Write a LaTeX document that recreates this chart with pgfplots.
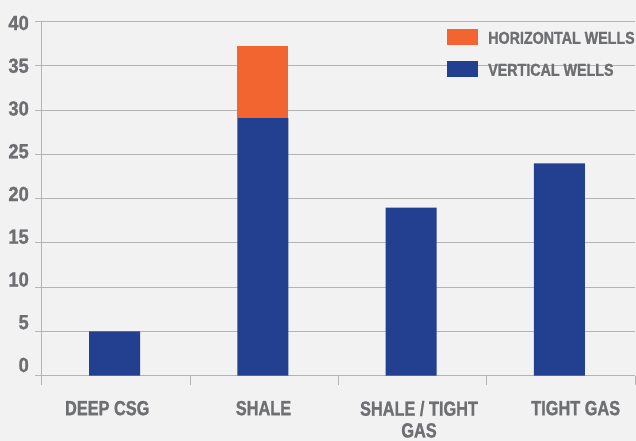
\documentclass[border=0pt]{standalone}
\usepackage{fontspec}
\setmainfont{Liberation Sans}
\newfontfamily\labelfont{Liberation Sans}[UprightFont={* Bold}, FakeStretch=0.8, FakeBold=1.2]
\newfontfamily\legfont{Liberation Sans}[UprightFont={* Bold}, FakeStretch=0.83, FakeBold=1.2]
\newfontfamily\numfont{Liberation Sans}[UprightFont={* Bold}, FakeStretch=0.9, FakeBold=1.2]
\usepackage{pgfplots}
\pgfplotsset{compat=1.18}

\definecolor{bgc}{HTML}{F2F2F2}
\definecolor{vblue}{HTML}{233F8F}
\definecolor{horange}{HTML}{F26531}
\definecolor{txt}{HTML}{6E6F72}
\definecolor{gridc}{HTML}{B4B4B4}

\begin{document}
\begin{tikzpicture}[x=1bp,y=1bp]
\fill[bgc] (-42,-65.3) rectangle (594,375.7);
\begin{axis}[
  at={(0,0)}, anchor=south west,
  scale only axis, width=593bp, height=354bp,
  ybar stacked, bar width=51bp, bar shift=-1.5bp,
  xmin=-0.5, xmax=3.5, ymin=0, ymax=40,
  ytick={0,5,...,40},
  xtick={-0.06,0.994,2.043,3.10},
  xticklabels={DEEP CSG, SHALE, SHALE / TIGHT\\GAS, TIGHT GAS},
  minor xtick={-0.5,0.5,1.5,2.5,3.5},
  axis lines*=left,
  axis line style={gridc, line width=1bp},
  ymajorgrids,
  major grid style={gridc, line width=1bp},
  tick align=outside,
  major tick length=7bp,
  minor tick length=9bp,
  tick style={gridc, line width=1bp},
  major x tick style={draw=none},
  /pgf/number format/assume math mode=true,
  yticklabel style={anchor=east, inner sep=0pt, xshift=-6bp,
    yshift={(10.7-1.5*\ticknum)*1bp},
    font=\numfont\fontsize{20.4bp}{21.7bp}\selectfont, text=txt},
  xticklabel style={anchor=north, inner sep=0pt, align=center, yshift=-18bp,
    font=\labelfont\fontsize{20.4bp}{21.7bp}\selectfont, text=txt},
  reverse legend,
  legend style={at={(0.683,0.979)}, anchor=north west, draw=none, fill=none,
    inner sep=0pt, row sep=16bp, column sep=0bp,
    nodes={inner sep=0pt, text=txt},
    font=\legfont\fontsize{17.2bp}{18bp}\selectfont},
  legend cell align=left,
]
% vertical wells
\addplot[fill=vblue, draw=none,
  legend image code/.code={\fill[vblue] (0bp,-6.8bp) rectangle (31bp,9.2bp); \path (41bp,0) ;}]
  coordinates {(0,5) (1,29.1) (2,19) (3,24)};
\addlegendentry{VERTICAL WELLS}
% horizontal wells
\addplot[fill=horange, draw=none,
  legend image code/.code={\fill[horange] (0bp,-6.8bp) rectangle (31bp,9.2bp); \path (41bp,0) ;}]
  coordinates {(0,0) (1,8.2) (2,0) (3,0)};
\addlegendentry{HORIZONTAL WELLS}
\end{axis}
\pgfresetboundingbox
\path (-42,-65.3) rectangle (594,375.7);
\end{tikzpicture}
\end{document}
